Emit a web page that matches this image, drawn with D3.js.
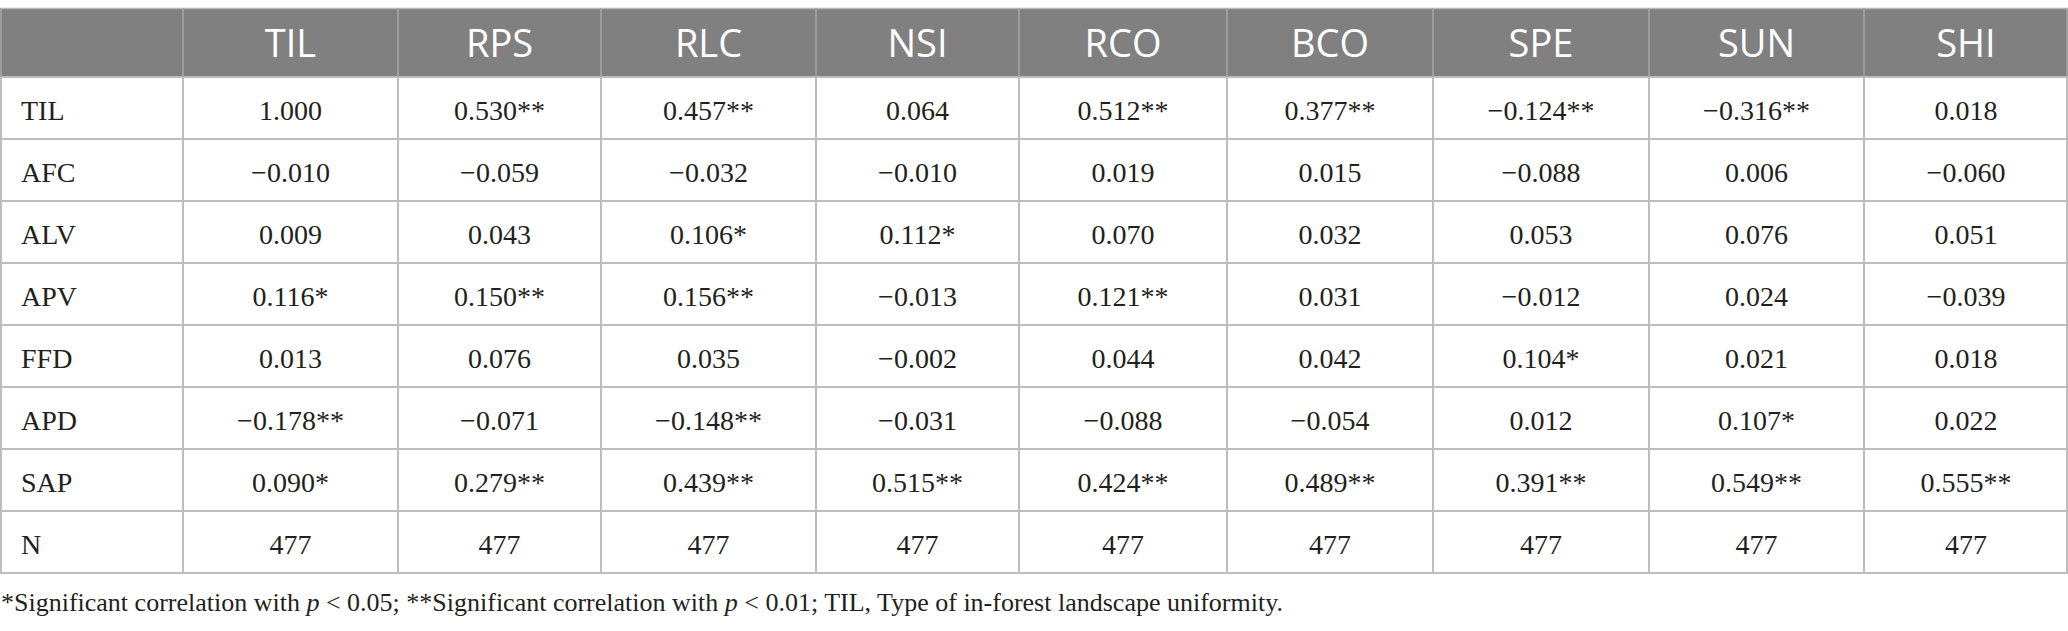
<!DOCTYPE html>
<html>
<head>
<meta charset="utf-8">
<script src="https://cdn.jsdelivr.net/npm/d3@7"></script>
<style>
  html, body { margin: 0; padding: 0; background: #fff; }
  svg { display: block; }
</style>
</head>
<body>
<svg id="chart" width="2068" height="631"></svg>
<script>
// ---- data ----
const columns = ["TIL", "RPS", "RLC", "NSI", "RCO", "BCO", "SPE", "SUN", "SHI"];
const rowLabels = ["TIL", "AFC", "ALV", "APV", "FFD", "APD", "SAP", "N"];
const rowTIL = [1.000, 0.530, 0.457, 0.064, 0.512, 0.377, -0.124, -0.316, 0.018];
const rowAFC = [-0.010, -0.059, -0.032, -0.010, 0.019, 0.015, -0.088, 0.006, -0.060];
const rowALV = [0.009, 0.043, 0.106, 0.112, 0.070, 0.032, 0.053, 0.076, 0.051];
const rowAPV = [0.116, 0.150, 0.156, -0.013, 0.121, 0.031, -0.012, 0.024, -0.039];
const rowFFD = [0.013, 0.076, 0.035, -0.002, 0.044, 0.042, 0.104, 0.021, 0.018];
const rowAPD = [-0.178, -0.071, -0.148, -0.031, -0.088, -0.054, 0.012, 0.107, 0.022];
const rowSAP = [0.090, 0.279, 0.439, 0.515, 0.424, 0.489, 0.391, 0.549, 0.555];
const rowN   = [477, 477, 477, 477, 477, 477, 477, 477, 477];
// significance marks: number of asterisks
const sigTIL = [0, 2, 2, 0, 2, 2, 2, 2, 0];
const sigAFC = [0, 0, 0, 0, 0, 0, 0, 0, 0];
const sigALV = [0, 0, 1, 1, 0, 0, 0, 0, 0];
const sigAPV = [1, 2, 2, 0, 2, 0, 0, 0, 0];
const sigFFD = [0, 0, 0, 0, 0, 0, 1, 0, 0];
const sigAPD = [2, 0, 2, 0, 0, 0, 0, 1, 0];
const sigSAP = [1, 2, 2, 2, 2, 2, 2, 2, 2];
const sigN   = [0, 0, 0, 0, 0, 0, 0, 0, 0];

// ---- layout ----
const W = 2068;
const colEdges = [0, 183, 398, 601, 816, 1019, 1227, 1433, 1649, 1864, 2068];
const headTop = 8, headBottom = 77, tableBottom = 573;
const gridColor = "#bdbdbd";
const headerFill = "#808080";

const values = [rowTIL, rowAFC, rowALV, rowAPV, rowFFD, rowAPD, rowSAP, rowN];
const sigs = [sigTIL, sigAFC, sigALV, sigAPV, sigFFD, sigAPD, sigSAP, sigN];

const y = d3.scaleBand().domain(rowLabels).range([headBottom, tableBottom]);
const colIdx = d3.range(columns.length + 1);
const xLeft = d3.scaleOrdinal().domain(colIdx).range(colEdges.slice(0, -1));
const xRight = d3.scaleOrdinal().domain(colIdx).range(colEdges.slice(1));
const xMid = i => (xLeft(i) + xRight(i)) / 2;

const fmt3 = d3.format(".3f");
const fmtN = d3.format("d");

const svg = d3.select("#chart");

// header background
svg.append("rect")
  .attr("x", 0).attr("y", headTop)
  .attr("width", W).attr("height", headBottom - headTop)
  .attr("fill", headerFill);

// header labels
svg.append("g").selectAll("text")
  .data(columns)
  .join("text")
  .attr("x", (d, i) => xMid(i + 1))
  .attr("y", 57)
  .attr("text-anchor", "middle")
  .attr("fill", "#ffffff")
  .style("font-family", "'Open Sans', 'Noto Sans', sans-serif")
  .style("font-size", "38px")
  .text(d => d);

// grid lines
const grid = svg.append("g").attr("stroke", gridColor).attr("stroke-width", 2).attr("fill", "none");
// top border
grid.append("line").attr("x1", 0).attr("x2", W).attr("y1", headTop + 0.5).attr("y2", headTop + 0.5)
  .attr("stroke-width", 1.5).attr("stroke", "#b5b5b5");
// horizontal row borders
grid.selectAll("line.h")
  .data(rowLabels.map(r => y(r)).concat([tableBottom]))
  .join("line").attr("class", "h")
  .attr("x1", 0).attr("x2", W)
  .attr("y1", d => d).attr("y2", d => d);
// vertical borders in header
grid.selectAll("line.v")
  .data(colEdges)
  .join("line").attr("class", "v")
  .attr("x1", (d, i) => i === 0 ? 1 : (i === colEdges.length - 1 ? W - 1 : d))
  .attr("x2", (d, i) => i === 0 ? 1 : (i === colEdges.length - 1 ? W - 1 : d))
  .attr("y1", headTop).attr("y2", tableBottom)
  .attr("stroke", "#a9a9a9")
  .attr("stroke-width", 1.5);
// vertical borders in body (lighter)
grid.selectAll("line.vb")
  .data(colEdges)
  .join("line").attr("class", "vb")
  .attr("x1", (d, i) => i === 0 ? 1 : (i === colEdges.length - 1 ? W - 1 : d))
  .attr("x2", (d, i) => i === 0 ? 1 : (i === colEdges.length - 1 ? W - 1 : d))
  .attr("y1", headBottom).attr("y2", tableBottom);

// body rows
const bodyFont = "'Liberation Serif', 'Times New Roman', serif";
const rowsG = svg.append("g")
  .style("font-family", bodyFont)
  .style("font-size", "28px")
  .attr("fill", "#231f20");

const rowG = rowsG.selectAll("g.row")
  .data(rowLabels)
  .join("g").attr("class", "row");

rowG.append("text")
  .attr("x", 21)
  .attr("y", d => y(d) + 43)
  .text(d => d);

rowG.selectAll("text.v")
  .data((d, ri) => values[ri].map((v, ci) => ({ row: d, v, s: sigs[ri][ci], ci, isN: d === "N" })))
  .join("text").attr("class", "v")
  .attr("x", d => xMid(d.ci + 1))
  .attr("y", d => y(d.row) + 43)
  .attr("text-anchor", "middle")
  .text(d => (d.isN ? fmtN(d.v) : fmt3(d.v)) + "*".repeat(d.s));

// footnote
const foot = svg.append("text")
  .attr("x", 1).attr("y", 611)
  .style("font-family", bodyFont)
  .style("font-size", "26px")
  .attr("fill", "#231f20");
foot.append("tspan").text("*Significant correlation with ");
foot.append("tspan").style("font-style", "italic").text("p");
foot.append("tspan").text(" < 0.05; **Significant correlation with ");
foot.append("tspan").style("font-style", "italic").text("p");
foot.append("tspan").text(" < 0.01; TIL, Type of in-forest landscape uniformity.");
</script>
</body>
</html>
